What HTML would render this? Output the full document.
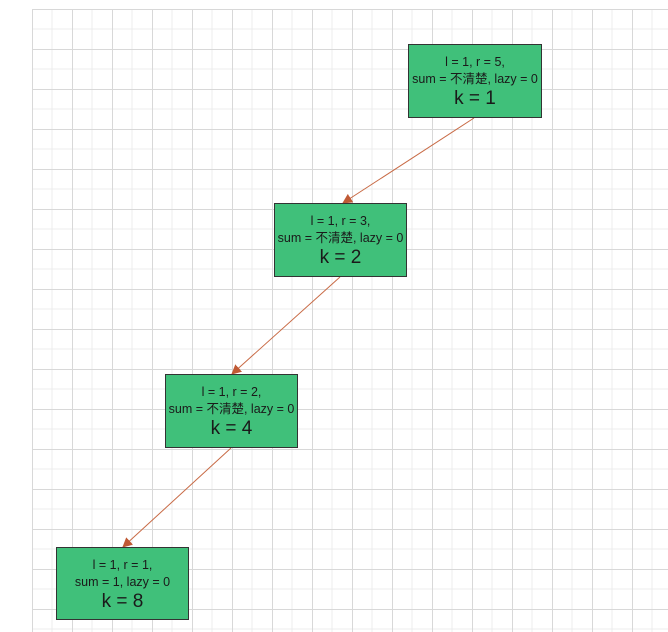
<!DOCTYPE html>
<html><head><meta charset="utf-8"><style>
html,body{margin:0;padding:0;background:#fff;width:668px;height:632px;overflow:hidden}
.n{position:absolute;background:#40c07a;border:1px solid #333;box-sizing:border-box;text-align:center;color:#1a1a1a;font-family:"Liberation Sans","Noto Sans CJK SC",sans-serif;white-space:nowrap}
.a{font-size:12.5px;line-height:17px;margin-top:9px}
.k{font-size:19px;line-height:22px}
</style></head><body>
<svg width="668" height="632" style="position:absolute;left:0;top:0">
<defs>
<pattern id="g" x="32" y="9" width="40" height="40" patternUnits="userSpaceOnUse">
<path d="M20 0V40M0 20H40" stroke="#ececec" stroke-width="1"/>
<path d="M0.5 0V40M0 0.5H40" stroke="#d8d8d8" stroke-width="1"/>
</pattern>
<marker id="m" markerWidth="10" markerHeight="10" refX="9" refY="5" orient="auto" markerUnits="userSpaceOnUse"><path d="M0 0L10 5L0 10z" fill="#c05a35"/></marker>
</defs>
<rect x="32" y="9" width="636" height="623" fill="url(#g)"/>
<g stroke="#c86a45" stroke-width="1" marker-end="url(#m)">
<line x1="474" y1="118" x2="343" y2="203"/>
<line x1="340" y1="277" x2="232" y2="374"/>
<line x1="231" y1="448" x2="123" y2="547"/>
</g>
</svg>
<div class="n" style="left:408px;top:44px;width:134px;height:74px"><div class="a">l = 1, r = 5,<br>sum = 不清楚, lazy = 0</div><div class="k">k = 1</div></div>
<div class="n" style="left:274px;top:203px;width:133px;height:74px"><div class="a">l = 1, r = 3,<br>sum = 不清楚, lazy = 0</div><div class="k">k = 2</div></div>
<div class="n" style="left:165px;top:374px;width:133px;height:74px"><div class="a">l = 1, r = 2,<br>sum = 不清楚, lazy = 0</div><div class="k">k = 4</div></div>
<div class="n" style="left:56px;top:547px;width:133px;height:73px"><div class="a">l = 1, r = 1,<br>sum = 1, lazy = 0</div><div class="k">k = 8</div></div>
</body></html>
